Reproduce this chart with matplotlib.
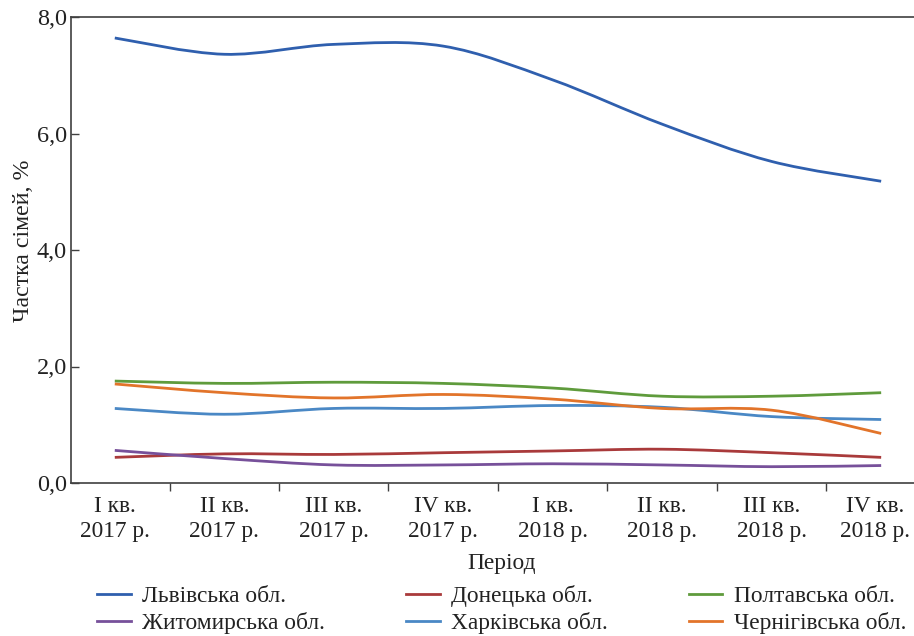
import numpy as np
import matplotlib
matplotlib.use("Agg")
import matplotlib.pyplot as plt
from matplotlib.path import Path
from matplotlib.patches import PathPatch
from matplotlib.lines import Line2D
from matplotlib.transforms import ScaledTranslation

plt.rcParams['font.family'] = ['Liberation Serif', 'DejaVu Serif']

# Data

periods = ["I кв.\n2017 р.", "II кв.\n2017 р.", "III кв.\n2017 р.", "IV кв.\n2017 р.",
           "I кв.\n2018 р.", "II кв.\n2018 р.", "III кв.\n2018 р.", "IV кв.\n2018 р."]

lviv = [7.64, 7.36, 7.53, 7.50, 6.92, 6.16, 5.52, 5.18]
donetsk = [0.44, 0.50, 0.49, 0.52, 0.55, 0.58, 0.52, 0.44]
poltava = [1.75, 1.71, 1.73, 1.71, 1.63, 1.49, 1.49, 1.55]
zhytomyr = [0.56, 0.42, 0.31, 0.31, 0.33, 0.31, 0.28, 0.30]
kharkiv = [1.28, 1.18, 1.28, 1.28, 1.33, 1.30, 1.14, 1.09]
chernihiv = [1.70, 1.55, 1.46, 1.52, 1.44, 1.28, 1.25, 0.85]

series = [("Львівська обл.", lviv, "#2f5fae"),
          ("Донецька обл.", donetsk, "#a93a3b"),
          ("Полтавська обл.", poltava, "#5f9b3c"),
          ("Житомирська обл.", zhytomyr, "#77509a"),
          ("Харківська обл.", kharkiv, "#4a88c5"),
          ("Чернігівська обл.", chernihiv, "#e2742a")]

FS = 16.8


def smooth_path(y):
    # smoothed line like in a spreadsheet (Catmull-Rom -> bezier)
    pts = np.column_stack([np.arange(len(y)), y]).astype(float)
    padded = np.vstack([pts[0], pts, pts[-1]])
    verts = [pts[0]]
    codes = [Path.MOVETO]
    for i in range(len(pts) - 1):
        p0, p1, p2, p3 = padded[i], padded[i + 1], padded[i + 2], padded[i + 3]
        verts += [p1 + (p2 - p0) / 6, p2 - (p3 - p1) / 6, p2]
        codes += [Path.CURVE4] * 3
    return Path(verts, codes)


fig = plt.figure(figsize=(9.14, 6.36), dpi=100)
ax = fig.add_axes([71 / 914, 1 - 483 / 636, 1 - 71 / 914, (483 - 17) / 636])

for name, vals, col in series:
    ax.add_patch(PathPatch(smooth_path(vals), facecolor='none', edgecolor=col,
                           lw=2.0, capstyle='butt'))

ax.set_xlim(-0.40, 7.30)
ax.set_ylim(0, 8)

ax.set_yticks([0, 2, 4, 6, 8])
ax.set_yticklabels(["0,0", "2,0", "4,0", "6,0", "8,0"])
ax.tick_params(axis='y', direction='in', length=6, width=1.0, pad=3,
               labelsize=17.5, colors='#404040', labelcolor='#222222')

ax.set_xticks(np.arange(len(periods) - 1) + 0.5)
ax.set_xticklabels([])
ax.set_xticks(np.arange(len(periods)), minor=True)
ax.set_xticklabels(periods, minor=True, linespacing=1.25)
ax.tick_params(axis='x', which='major', direction='out', length=6, width=1.0,
               colors='#404040')
ax.tick_params(axis='x', which='minor', length=0, pad=9, labelsize=FS,
               labelcolor='#222222')

# last label sits a little left of its point, as in the original
last = ax.get_xticklabels(minor=True)[-1]
last.set_transform(last.get_transform() + ScaledTranslation(-6 / 100, 0, fig.dpi_scale_trans))

for s in ['left', 'bottom', 'top']:
    ax.spines[s].set_color('#404040')
    ax.spines[s].set_linewidth(1.2)
ax.spines['right'].set_visible(False)

ax.set_ylabel("Частка сімей, %", fontsize=17.2, color='#222222')
ax.yaxis.set_label_coords(-0.044, 0.519)
ax.set_xlabel("Період", fontsize=FS, color='#222222')
ax.xaxis.set_label_coords((502 - 71) / 843, -0.150)

order = [0, 3, 1, 4, 2, 5]
handles = [Line2D([], [], color=series[i][2], lw=2.0) for i in order]
labels = [series[i][0] for i in order]
fig.legend(handles, labels, loc='upper left', bbox_to_anchor=(97 / 914, 1 - 585 / 636),
           ncol=3, frameon=False, fontsize=FS, borderpad=0, borderaxespad=0,
           handlelength=1.45, handletextpad=0.5, columnspacing=3.45, labelspacing=0.2,
           labelcolor='#222222')

fig.savefig("out.png", dpi=100)
